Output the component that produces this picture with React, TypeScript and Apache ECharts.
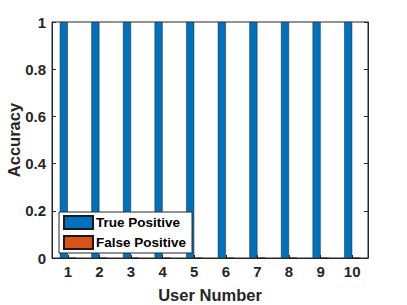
import React, { useEffect, useRef } from "react";
import * as echarts from "echarts";

const users = ["1", "2", "3", "4", "5", "6", "7", "8", "9", "10"];
const truePositive = [1, 1, 1, 1, 1, 1, 1, 1, 1, 1];
const falsePositive = [0, 0, 0, 0, 0, 0, 0, 0, 0, 0];

const FONT = "'Liberation Sans', Arial, Helvetica, sans-serif";
const AX = "#262626";

export default function App() {
  const ref = useRef<HTMLDivElement>(null);
  useEffect(() => {
    if (!ref.current) return;
    const chart = echarts.init(ref.current, undefined, { renderer: "svg" });
    chart.setOption({
      animation: false,
      backgroundColor: "#ffffff",
      textStyle: { fontFamily: FONT },
      grid: {
        left: 52,
        top: 22,
        width: 316,
        height: 236,
        containLabel: false,
        outerBoundsMode: "none",
        show: true,
        borderColor: AX,
        borderWidth: 1,
        backgroundColor: "#ffffff",
      },
      legend: {
        orient: "vertical",
        left: 59,
        top: 212,
        itemWidth: 29,
        itemHeight: 13,
        itemGap: 5,
        padding: [3, 6, 3, 4],
        backgroundColor: "#ffffff",
        borderColor: AX,
        borderWidth: 1,
        borderRadius: 0,
        textStyle: {
          fontFamily: FONT,
          fontWeight: "bold",
          fontSize: 13.5,
          color: "#000000",
          padding: [0, 0, 0, -2],
        },
        data: [
          { name: "True Positive", icon: "rect" },
          { name: "False Positive", icon: "rect" },
        ],
      },
      xAxis: {
        type: "category",
        data: users,
        name: "User Number",
        nameLocation: "middle",
        nameGap: 28,
        nameMoveOverlap: false,
        nameTextStyle: {
          fontFamily: FONT,
          fontWeight: "bold",
          fontSize: 16.5,
          color: AX,
        },
        axisLine: { show: true, lineStyle: { color: AX, width: 1 } },
        axisTick: {
          show: true,
          inside: true,
          alignWithLabel: true,
          length: 3,
          lineStyle: { color: AX },
        },
        axisLabel: {
          fontFamily: FONT,
          fontWeight: "bold",
          fontSize: 15,
          color: AX,
          margin: 6,
        },
        splitLine: { show: false },
      },
      yAxis: [
        {
          type: "value",
          min: 0,
          max: 1,
          interval: 0.2,
          name: "Accuracy",
          nameLocation: "middle",
          nameGap: 30,
          nameMoveOverlap: false,
          nameTextStyle: {
            fontFamily: FONT,
            fontWeight: "bold",
            fontSize: 16.5,
            color: AX,
          },
          axisLine: { show: true, lineStyle: { color: AX, width: 1 } },
          axisTick: {
            show: true,
            inside: true,
            length: 4,
            lineStyle: { color: AX },
          },
          axisLabel: {
            fontFamily: FONT,
            fontWeight: "bold",
            fontSize: 15,
            color: AX,
            margin: 6,
          },
          splitLine: { show: false },
        },
        {
          type: "value",
          min: 0,
          max: 1,
          interval: 0.2,
          position: "right",
          axisLine: { show: true, lineStyle: { color: AX, width: 1 } },
          axisTick: {
            show: true,
            inside: true,
            length: 4,
            lineStyle: { color: AX },
          },
          axisLabel: { show: false },
          splitLine: { show: false },
        },
      ],
      series: [
        {
          name: "True Positive",
          type: "bar",
          data: truePositive,
          barWidth: 8,
          barGap: "0%",
          itemStyle: { color: "#0072BD", borderColor: "#1a1a1a", borderWidth: 0.5 },
        },
        {
          name: "False Positive",
          type: "bar",
          data: falsePositive,
          barWidth: 8,
          barGap: "0%",
          itemStyle: { color: "#D95319", borderColor: "#1a1a1a", borderWidth: 0.5 },
        },
      ],
    });
    return () => chart.dispose();
  }, []);
  return (
    <div
      ref={ref}
      style={{ position: "fixed", left: 0, top: 0, width: 407, height: 305 }}
    />
  );
}
